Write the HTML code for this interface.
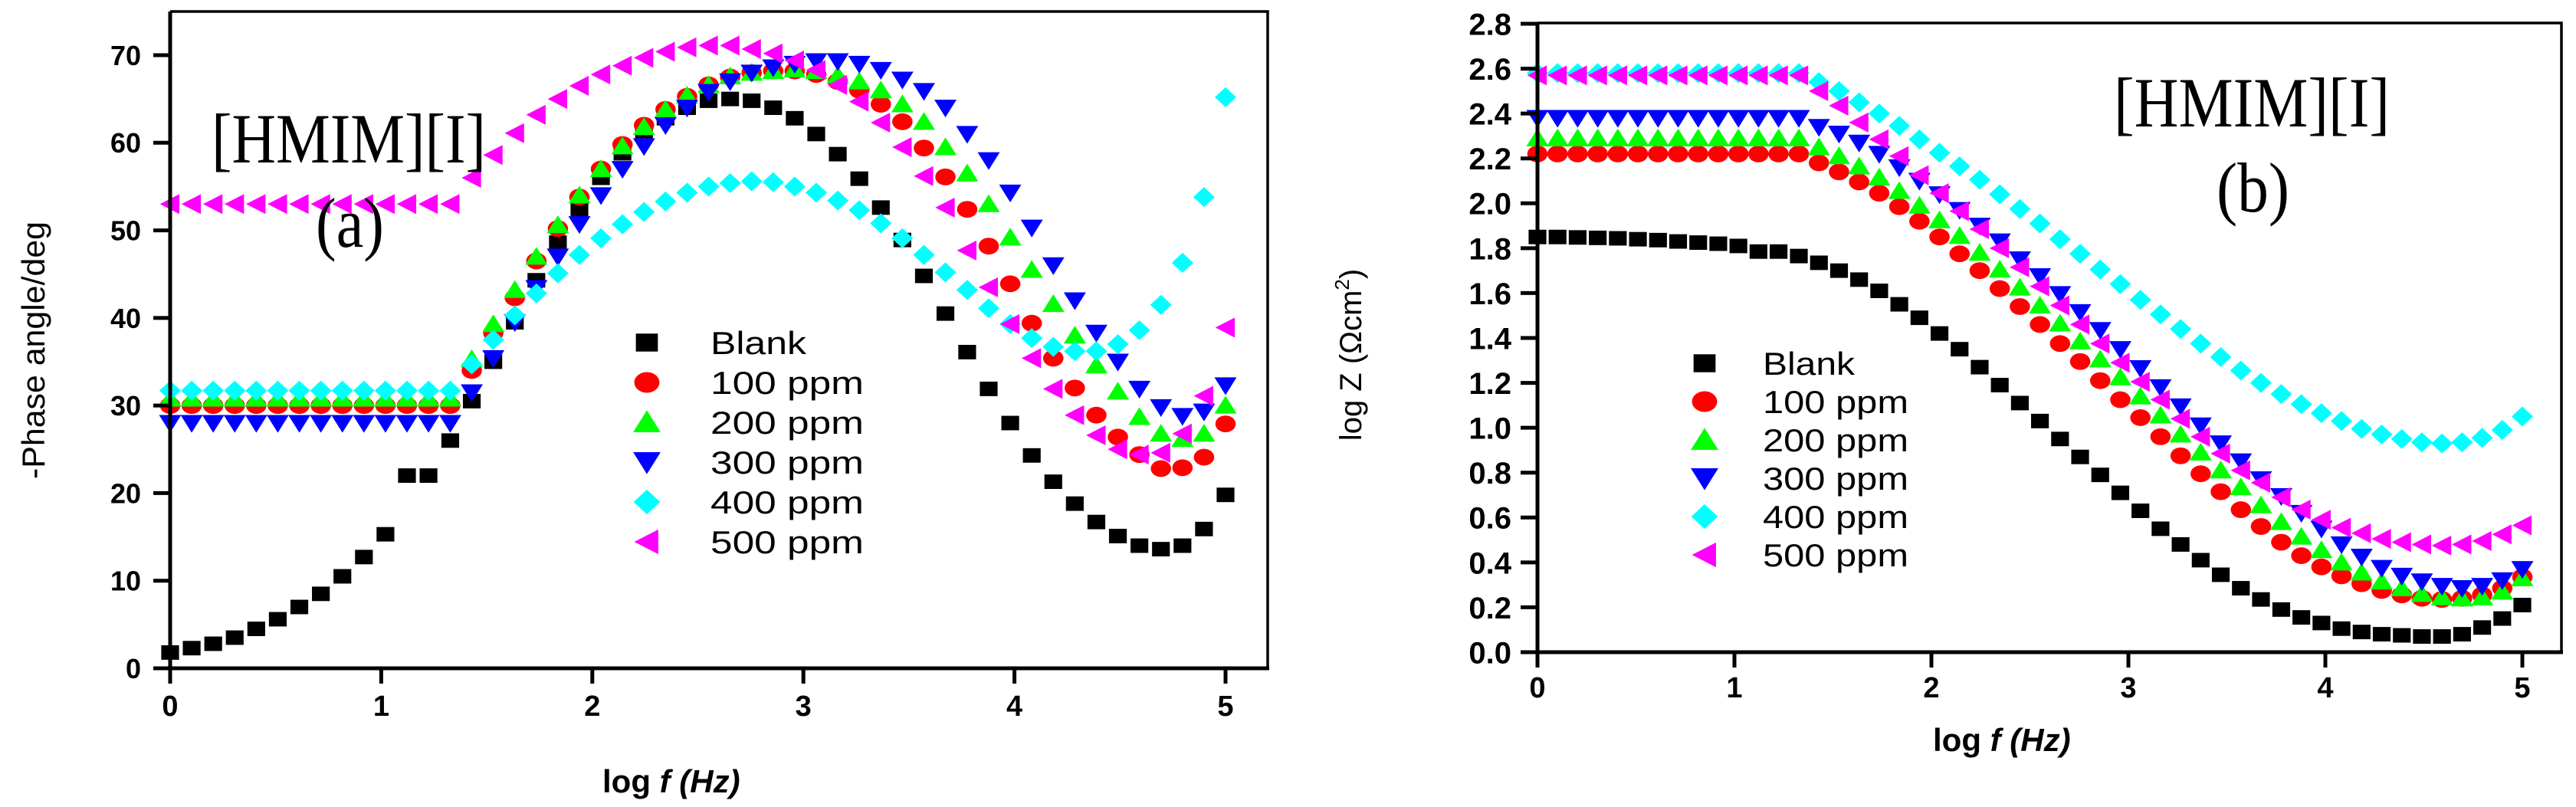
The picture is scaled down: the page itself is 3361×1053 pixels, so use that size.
<!DOCTYPE html>
<html><head><meta charset="utf-8"><style>
html,body{margin:0;padding:0;background:#fff;}
svg{display:block;}
text{font-family:"Liberation Sans",Arial,sans-serif;}
.serif{font-family:"Liberation Serif","Times New Roman",serif;}
</style></head><body>
<svg id="fig" xmlns="http://www.w3.org/2000/svg" width="3361" height="1053" viewBox="0 0 3361 1053">
<rect x="0" y="0" width="3361" height="1053" fill="#fff"/>
<g id="chartA"></g>
<g id="chartB"></g>
</svg>
<script>
const logf=[0,0.102,0.204,0.306,0.408,0.510,0.612,0.714,0.816,0.918,1.020,1.122,1.224,1.327,1.429,1.531,1.633,1.735,1.837,1.939,2.041,2.143,2.245,2.347,2.449,2.551,2.653,2.755,2.857,2.959,3.061,3.163,3.265,3.367,3.469,3.571,3.673,3.776,3.878,3.980,4.082,4.184,4.286,4.388,4.490,4.592,4.694,4.796,4.898,5.0];
const seriesNames=["Blank","100 ppm","200 ppm","300 ppm","400 ppm","500 ppm"];
const phaseBlank=[1.8,2.3,2.8,3.5,4.5,5.6,7,8.5,10.5,12.7,15.3,22,22,26,30.5,35,39.5,44.3,48.6,52.4,56,58.8,61,62.8,64,64.8,65,64.8,64,62.8,61,58.7,55.9,52.6,48.9,44.8,40.5,36.1,31.9,28,24.3,21.3,18.8,16.7,15.1,14,13.6,14,15.9,19.8];
const phase100=[30,30,30,30,30,30,30,30,30,30,30,30,30,30,34,38.3,42.3,46.5,50.2,53.8,57,59.8,62,63.8,65.3,66.6,67.5,68,68.2,68.2,67.8,67,66,64.4,62.4,59.4,56.1,52.4,48.2,43.9,39.4,35.4,32,28.9,26.4,24.4,22.8,22.9,24.1,27.9];
const phase200=[30.8,30.8,30.8,30.8,30.8,30.8,30.8,30.8,30.8,30.8,30.8,30.8,30.8,30.8,35.3,39.3,43.2,47,50.6,54,57,59.6,61.8,63.8,65.4,66.6,67.6,68,68.2,68.4,68.2,67.7,67,66,64.4,62.4,59.5,56.5,53,49.2,45.5,41.6,38,34.6,31.6,28.7,26.8,26.2,26.8,30];
const phase300=[28,28,28,28,28,28,28,28,28,28,28,28,28,28,31.5,35.4,39.5,43.4,47,50.7,54,57,59.6,62,64,65.8,67,68,68.6,69,69.3,69.3,69,68.3,67.2,65.9,64,61,58,54.3,50.3,46,42,38.3,35,31.9,29.8,28.8,29.3,32.3];
const phase400=[31.7,31.7,31.7,31.7,31.7,31.7,31.7,31.7,31.7,31.7,31.7,31.7,31.7,31.7,34.7,37.5,40.3,42.8,45.1,47.2,49.1,50.7,52.1,53.3,54.3,55,55.4,55.6,55.5,55,54.3,53.4,52.3,50.8,49.1,47.2,45.2,43.2,41.1,39.3,37.7,36.7,36.2,36.2,37,38.6,41.5,46.3,53.8,65.2];
const phase500=[53,53,53,53,53,53,53,53,53,53,53,53,53,53,56,58.6,61.1,63.2,65,66.5,67.8,68.8,69.7,70.4,70.9,71.1,71.1,70.7,70.2,69.4,68.3,66.6,64.7,62.3,59.5,56.2,52.6,47.7,43.5,39.3,35.4,31.9,28.9,26.6,25,24.4,24.6,26.8,31.1,38.9];
const zBlank=[1.85,1.85,1.848,1.846,1.844,1.84,1.836,1.83,1.825,1.82,1.81,1.785,1.785,1.765,1.735,1.70,1.66,1.61,1.55,1.49,1.42,1.35,1.27,1.19,1.11,1.03,0.95,0.87,0.79,0.71,0.63,0.55,0.48,0.41,0.345,0.285,0.235,0.19,0.155,0.13,0.105,0.09,0.08,0.075,0.07,0.07,0.08,0.11,0.15,0.21];
const z100=[2.22,2.22,2.22,2.22,2.22,2.22,2.22,2.22,2.22,2.22,2.22,2.22,2.22,2.22,2.18,2.14,2.095,2.045,1.985,1.92,1.85,1.775,1.70,1.62,1.54,1.46,1.375,1.295,1.21,1.125,1.045,0.96,0.875,0.795,0.715,0.635,0.56,0.49,0.43,0.38,0.34,0.305,0.275,0.255,0.24,0.235,0.24,0.255,0.285,0.335];
const z200=[2.29,2.29,2.29,2.29,2.29,2.29,2.29,2.29,2.29,2.29,2.29,2.29,2.29,2.29,2.25,2.21,2.165,2.115,2.055,1.99,1.925,1.855,1.78,1.705,1.625,1.545,1.465,1.385,1.305,1.225,1.14,1.055,0.97,0.89,0.81,0.735,0.655,0.58,0.515,0.455,0.40,0.355,0.315,0.285,0.26,0.245,0.24,0.245,0.27,0.33];
const z300=[2.38,2.38,2.38,2.38,2.38,2.38,2.38,2.38,2.38,2.38,2.38,2.38,2.38,2.38,2.34,2.31,2.27,2.22,2.16,2.10,2.04,1.97,1.90,1.83,1.75,1.675,1.595,1.515,1.435,1.35,1.265,1.18,1.095,1.01,0.93,0.85,0.77,0.695,0.62,0.55,0.48,0.425,0.375,0.34,0.315,0.295,0.285,0.295,0.32,0.37];
const z400=[2.58,2.58,2.58,2.58,2.58,2.58,2.58,2.58,2.58,2.58,2.58,2.58,2.58,2.58,2.54,2.50,2.45,2.40,2.345,2.285,2.225,2.165,2.105,2.04,1.975,1.91,1.84,1.775,1.705,1.64,1.57,1.505,1.44,1.375,1.315,1.255,1.2,1.15,1.105,1.065,1.03,0.995,0.97,0.95,0.935,0.93,0.935,0.955,0.99,1.05];
const z500=[2.57,2.57,2.57,2.57,2.57,2.57,2.57,2.57,2.57,2.57,2.57,2.57,2.57,2.57,2.50,2.435,2.36,2.285,2.21,2.125,2.045,1.965,1.885,1.80,1.715,1.63,1.545,1.46,1.375,1.29,1.205,1.125,1.04,0.96,0.885,0.81,0.755,0.69,0.635,0.59,0.555,0.53,0.505,0.49,0.48,0.475,0.48,0.495,0.525,0.565];
const xTicks=[0,1,2,3,4,5];
const yTicksA=[0,10,20,30,40,50,60,70];
const yTicksB=[0,0.2,0.4,0.6,0.8,1.0,1.2,1.4,1.6,1.8,2.0,2.2,2.4,2.6,2.8];

const NS="http://www.w3.org/2000/svg";
const colors=["#000000","#ff0000","#00ff00","#0000ff","#00ffff","#ff00ff"];
const shapes=["square","circle","up","down","diamond","left"];
function mk(tag,attrs,parent){const e=document.createElementNS(NS,tag);for(const k in attrs)e.setAttribute(k,attrs[k]);parent.appendChild(e);return e;}
function marker(parent,shape,cx,cy,color,s){
  let e;
  const w=s*1.15,h=s;
  if(shape==="square"){e=mk("rect",{x:cx-w*0.48,y:cy-h*0.45,width:w*0.96,height:h*0.9,fill:color},parent);}
  else if(shape==="circle"){e=mk("ellipse",{cx:cx,cy:cy,rx:w*0.55,ry:h*0.52,fill:color},parent);}
  else if(shape==="up"){e=mk("polygon",{points:`${cx},${cy-h*0.6} ${cx+w*0.6},${cy+h*0.5} ${cx-w*0.6},${cy+h*0.5}`,fill:color},parent);}
  else if(shape==="down"){e=mk("polygon",{points:`${cx},${cy+h*0.6} ${cx+w*0.6},${cy-h*0.5} ${cx-w*0.6},${cy-h*0.5}`,fill:color},parent);}
  else if(shape==="diamond"){e=mk("polygon",{points:`${cx},${cy-h*0.62} ${cx+w*0.58},${cy} ${cx},${cy+h*0.62} ${cx-w*0.58},${cy}`,fill:color},parent);}
  else {e=mk("polygon",{points:`${cx-w*0.55},${cy} ${cx+w*0.5},${cy-h*0.62} ${cx+w*0.5},${cy+h*0.62}`,fill:color},parent);}
  return e;
}
function txt(parent,s,attrs){const t=mk("text",attrs,parent);t.textContent=s;return t;}

function drawChart(g,cfg){
  const sx=v=>cfg.x0+(v-0)/(5-0)*(cfg.x5-cfg.x0);
  const sy=v=>cfg.yb-(v-cfg.ymin)/(cfg.ymax-cfg.ymin)*(cfg.yb-cfg.ytopVal);
  for(let s=0;s<cfg.series.length;s++){
    const sg=mk("g",{},g);
    
    
    const vals=cfg.series[s];
    for(let i=0;i<vals.length;i++){
      const m=marker(sg,shapes[s],sx(logf[i]),sy(vals[i]),colors[s],21);
      
      
    }
  }
  const fr=mk("path",{d:`M${cfg.x0},${cfg.top} H${cfg.right} V${cfg.yb}`,fill:"none",stroke:"#000","stroke-width":3.5},g);
  
  
  const ya=mk("line",{x1:cfg.x0,y1:cfg.top,x2:cfg.x0,y2:cfg.yb+20,stroke:"#000","stroke-width":5},g);
  
  
  const xa=mk("line",{x1:cfg.x0-22,y1:cfg.yb,x2:cfg.right+2,y2:cfg.yb,stroke:"#000","stroke-width":5},g);
  
  
  for(const t of xTicks){
    const x=sx(t);
    const tk=mk("line",{x1:x,y1:cfg.yb,x2:x,y2:cfg.yb+20,stroke:"#000","stroke-width":5},g);
    
    
    const lb=txt(g,String(t),{x:x,y:cfg.xlabY,"text-anchor":"middle","font-size":cfg.xfs,"font-weight":"bold"});
    
    
  }
  for(const t of cfg.yTicks){
    const y=sy(t);
    const tk=mk("line",{x1:cfg.x0-22,y1:y,x2:cfg.x0,y2:y,stroke:"#000","stroke-width":5},g);
    
    
    const lb=txt(g,cfg.fmt(t),{x:cfg.x0-cfg.ylabGap,y:y+cfg.yfs*0.36,"text-anchor":"end","font-size":cfg.yfs,"font-weight":"bold"});
    
    
  }
  const lg=mk("g",{},g);
  
  
  for(let s=0;s<seriesNames.length;s++){
    const y=cfg.legY+s*cfg.legDy;
    const m=marker(lg,shapes[s],cfg.legMx,y,colors[s],26);
    
    
    const t=txt(lg,seriesNames[s],{x:cfg.legTx,y:y+15,"font-size":42,textLength:(s===0?cfg.legW0:cfg.legW1),lengthAdjust:"spacingAndGlyphs"});
    
    
  }
}

const gA=document.getElementById("chartA");
drawChart(gA,{x0:222,x5:1599,right:1654,top:15,yb:872,ymin:0,ymax:70,ytopVal:72,yTicks:yTicksA,
  fmt:v=>String(v),series:[phaseBlank,phase100,phase200,phase300,phase400,phase500],
  xlabY:934,xfs:38,yfs:36,ylabGap:38,legMx:844,legTx:927,legY:447,legDy:52,legW0:125,legW1:200});
const gB=document.getElementById("chartB");
drawChart(gB,{x0:2006,x5:3291,right:3342,top:30,yb:851,ymin:0,ymax:2.8,ytopVal:31,yTicks:yTicksB,
  fmt:v=>v.toFixed(1),series:[zBlank,z100,z200,z300,z400,z500],
  xlabY:910,xfs:38,yfs:40,ylabGap:34,legMx:2224,legTx:2300,legY:474,legDy:50,legW0:120,legW1:190});

let t;
t=txt(gA,"[HMIM][I]",{x:276,y:212,"font-size":92,class:"serif",textLength:358,lengthAdjust:"spacingAndGlyphs"});


t=txt(gA,"(a)",{x:412,y:322,"font-size":92,class:"serif",textLength:89,lengthAdjust:"spacingAndGlyphs"});


t=txt(gA,"-Phase angle/deg",{x:0,y:0,"font-size":42,transform:"translate(58,457) rotate(-90)","text-anchor":"middle",textLength:336,lengthAdjust:"spacingAndGlyphs"});


t=txt(gA,"log ",{x:786,y:1034,"font-size":42,"font-weight":"bold"});
const ti=mk("tspan",{"font-style":"italic"},t);ti.textContent="f (Hz)";


t=txt(gB,"[HMIM][I]",{x:2758,y:165,"font-size":92,class:"serif",textLength:360,lengthAdjust:"spacingAndGlyphs"});


t=txt(gB,"(b)",{x:2892,y:276,"font-size":92,class:"serif",textLength:95,lengthAdjust:"spacingAndGlyphs"});


t=txt(gB,"log Z (Ωcm",{x:0,y:0,"font-size":40,transform:"translate(1776,463) rotate(-90)","text-anchor":"middle"});
const sup=mk("tspan",{dy:-16,"font-size":26},t);sup.textContent="2";
const cl=mk("tspan",{dy:16},t);cl.textContent=")";


t=txt(gB,"log ",{x:2522,y:980,"font-size":42,"font-weight":"bold"});
const ti2=mk("tspan",{"font-style":"italic"},t);ti2.textContent="f (Hz)";


</script>
</body></html>
